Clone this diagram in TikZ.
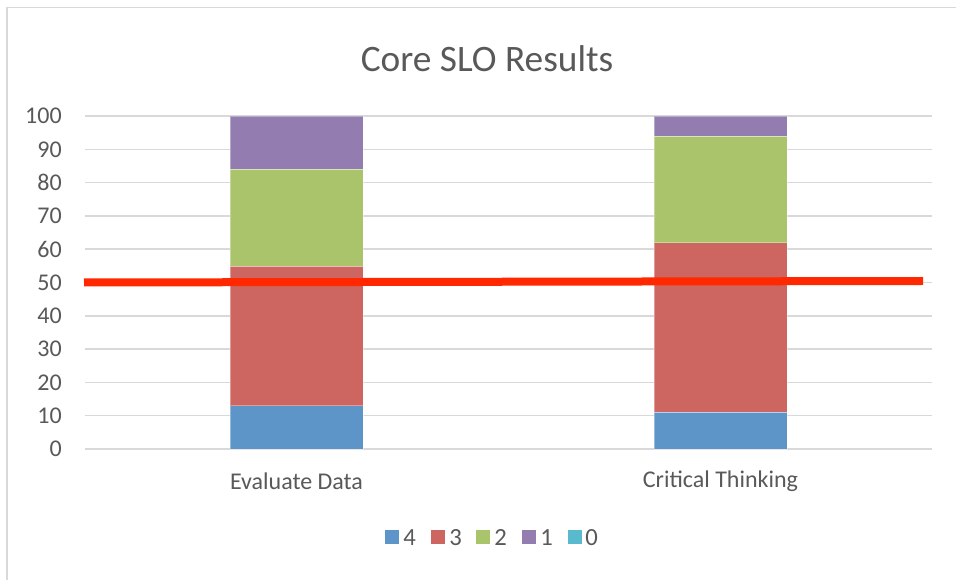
\documentclass[tikz,border=0pt]{standalone}
\usepackage{fontspec}
\setmainfont{Carlito}
\definecolor{txt}{HTML}{595959}
\definecolor{grid}{HTML}{D9D9D9}
\definecolor{cfour}{HTML}{5E95C9}
\definecolor{cthree}{HTML}{CD6660}
\definecolor{ctwo}{HTML}{A9C46B}
\definecolor{cone}{HTML}{927CB0}
\definecolor{czero}{HTML}{5ABACD}
\definecolor{target}{HTML}{FF2800}
\begin{document}
\begin{tikzpicture}[x=0.75pt,y=-0.75pt,
  gridline/.style={draw=grid,line width=1.1pt},
  ticklab/.style={text=txt,font=\fontsize{18}{20}\selectfont,anchor=east,inner sep=0pt},
  catlab/.style={text=txt,font=\fontsize{18}{20}\selectfont,inner sep=0pt},
  legsq/.style={minimum size=10.5pt,inner sep=0pt},
  leglab/.style={text=txt,font=\fontsize{18.5}{20}\selectfont,anchor=base west,inner sep=0pt},
  seg/.style={draw=white,draw opacity=0.35,line width=0.5pt}]
\useasboundingbox (0,0) rectangle (956,580);
\fill[white] (0,0) rectangle (956,580);
% chart border
\draw[grid,line width=1.1pt] (7,580) -- (7,7.5) -- (956,7.5);
% title
\node[text=txt,font=\fontsize{28}{30}\selectfont,inner sep=0pt] (title) at (487,59) {Core SLO Results};
% gridlines and tick labels
\foreach \v in {0,10,...,100}{
  \pgfmathsetmacro{\yy}{449-3.33*\v}
  \draw[gridline] (85,\yy) -- (932,\yy);
  \node[ticklab] (t\v) at (62,\yy) {\v};
}
% bars: Evaluate Data
\def\ystep{3.33}
\fill[cfour,seg] (230,449) rectangle (363,{449-13*\ystep});
\fill[cthree,seg] (230,{449-13*\ystep}) rectangle (363,{449-55*\ystep});
\fill[ctwo,seg] (230,{449-55*\ystep}) rectangle (363,{449-84*\ystep});
\fill[cone,seg] (230,{449-84*\ystep}) rectangle (363,{449-100*\ystep});
% bars: Critical Thinking
\fill[cfour,seg] (654,449) rectangle (787,{449-11*\ystep});
\fill[cthree,seg] (654,{449-11*\ystep}) rectangle (787,{449-62*\ystep});
\fill[ctwo,seg] (654,{449-62*\ystep}) rectangle (787,{449-94*\ystep});
\fill[cone,seg] (654,{449-94*\ystep}) rectangle (787,{449-100*\ystep});
% category labels
\node[catlab] (c1) at (296.5,481) {Evaluate Data};
\node[catlab] (c2) at (720.5,481) {Critical Thinking};
% target line
\coordinate (ls) at (84,282.5);
\coordinate (le) at (923,281);
\draw[target,line width=6pt] (ls) -- (le);
% legend
\node[legsq,fill=cfour] (s4) at (392,537) {};
\node[leglab] (l4) at (403,545.5) {4};
\node[legsq,fill=cthree] (s3) at (438,537) {};
\node[leglab] (l3) at (449,545.5) {3};
\node[legsq,fill=ctwo] (s2) at (483,537) {};
\node[leglab] (l2) at (494,545.5) {2};
\node[legsq,fill=cone] (s1) at (529,537) {};
\node[leglab] (l1) at (540,545.5) {1};
\node[legsq,fill=czero] (s0) at (574.5,537) {};
\node[leglab] (l0) at (585,545.5) {0};
\end{tikzpicture}
\end{document}
